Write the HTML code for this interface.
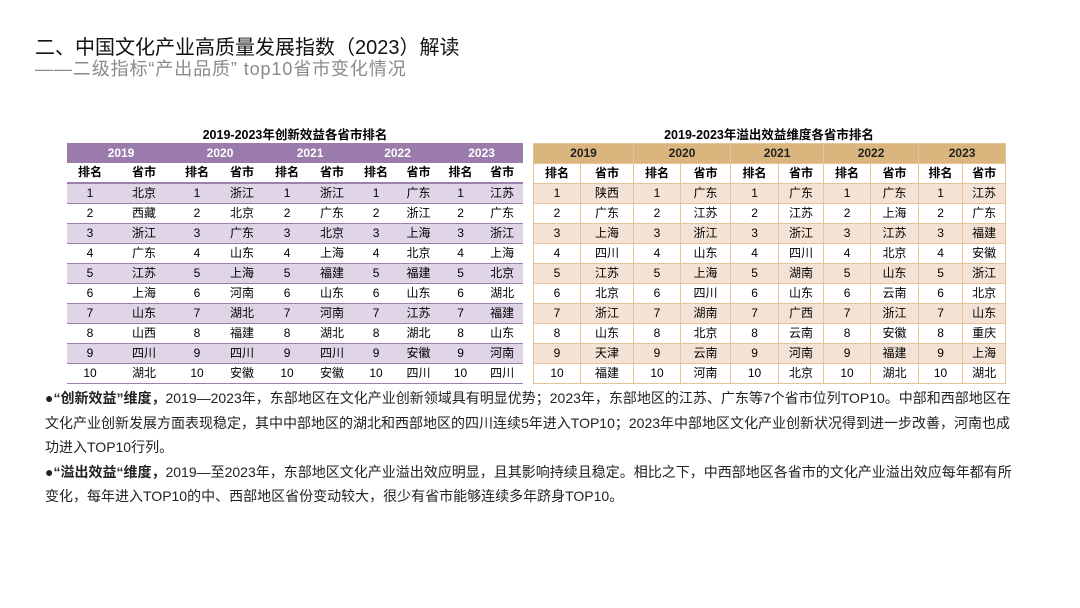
<!DOCTYPE html><html><head><meta charset="utf-8"><style>
body{margin:0;width:1080px;height:608px;background:#fff;position:relative;font-family:"Liberation Sans","Noto Sans CJK SC",sans-serif;overflow:hidden}
.a{position:absolute}
table{border-collapse:collapse;table-layout:fixed;font-size:12px;text-align:center}
td{padding:0;height:19px;line-height:17px;white-space:nowrap;overflow:hidden;box-sizing:border-box}
tr{height:20px}
.L td{border-bottom:1px solid #9b80b0;height:20px}
.L tr.h td{background:#9a7bab;color:#fff;font-weight:bold;border:none}
.L tr.s td{font-weight:bold;border-bottom:2px solid #9b80b0;height:19px}
.L tr.o td{background:#dfd5e7}
.R td{border:1px solid #e8c39a;height:20px}
.R tr.h td{background:#dbb57e;color:#222;font-weight:bold}
.R tr.s td{font-weight:bold;height:19px}
.R tr.o td{background:#f4e3d5}
.cap{font-size:12.5px;font-weight:bold;text-align:center}
p{margin:0}
</style></head><body>
<div class="a" style="left:35px;top:31px;font-size:20px;color:#111">二、中国文化产业高质量发展指数（2023）解读</div>
<div class="a" style="left:35px;top:55px;font-size:18px;color:#8a8a8a;letter-spacing:0.9px">——二级指标“产出品质” top10省市变化情况</div>
<div class="a cap" style="left:67px;top:124px;width:456px">2019-2023年创新效益各省市排名</div>
<div class="a cap" style="left:533px;top:124px;width:472px">2019-2023年溢出效益维度各省市排名</div>
<table class="a L" style="left:67px;top:143px;width:456px">
<colgroup><col style="width:46px"><col style="width:62px"><col style="width:44px"><col style="width:46px"><col style="width:44px"><col style="width:46px"><col style="width:42px"><col style="width:43px"><col style="width:41px"><col style="width:42px"></colgroup>
<tr class="h"><td colspan="2">2019</td><td colspan="2">2020</td><td colspan="2">2021</td><td colspan="2">2022</td><td colspan="2">2023</td></tr>
<tr class="s"><td>排名</td><td>省市</td><td>排名</td><td>省市</td><td>排名</td><td>省市</td><td>排名</td><td>省市</td><td>排名</td><td>省市</td></tr>
<tr class="o"><td>1</td><td>北京</td><td>1</td><td>浙江</td><td>1</td><td>浙江</td><td>1</td><td>广东</td><td>1</td><td>江苏</td></tr>
<tr><td>2</td><td>西藏</td><td>2</td><td>北京</td><td>2</td><td>广东</td><td>2</td><td>浙江</td><td>2</td><td>广东</td></tr>
<tr class="o"><td>3</td><td>浙江</td><td>3</td><td>广东</td><td>3</td><td>北京</td><td>3</td><td>上海</td><td>3</td><td>浙江</td></tr>
<tr><td>4</td><td>广东</td><td>4</td><td>山东</td><td>4</td><td>上海</td><td>4</td><td>北京</td><td>4</td><td>上海</td></tr>
<tr class="o"><td>5</td><td>江苏</td><td>5</td><td>上海</td><td>5</td><td>福建</td><td>5</td><td>福建</td><td>5</td><td>北京</td></tr>
<tr><td>6</td><td>上海</td><td>6</td><td>河南</td><td>6</td><td>山东</td><td>6</td><td>山东</td><td>6</td><td>湖北</td></tr>
<tr class="o"><td>7</td><td>山东</td><td>7</td><td>湖北</td><td>7</td><td>河南</td><td>7</td><td>江苏</td><td>7</td><td>福建</td></tr>
<tr><td>8</td><td>山西</td><td>8</td><td>福建</td><td>8</td><td>湖北</td><td>8</td><td>湖北</td><td>8</td><td>山东</td></tr>
<tr class="o"><td>9</td><td>四川</td><td>9</td><td>四川</td><td>9</td><td>四川</td><td>9</td><td>安徽</td><td>9</td><td>河南</td></tr>
<tr><td>10</td><td>湖北</td><td>10</td><td>安徽</td><td>10</td><td>安徽</td><td>10</td><td>四川</td><td>10</td><td>四川</td></tr>
</table>
<table class="a R" style="left:533px;top:143px;width:472px">
<colgroup><col style="width:47px"><col style="width:53px"><col style="width:47px"><col style="width:50px"><col style="width:48px"><col style="width:45px"><col style="width:47px"><col style="width:48px"><col style="width:44px"><col style="width:43px"></colgroup>
<tr class="h"><td colspan="2">2019</td><td colspan="2">2020</td><td colspan="2">2021</td><td colspan="2">2022</td><td colspan="2">2023</td></tr>
<tr class="s"><td>排名</td><td>省市</td><td>排名</td><td>省市</td><td>排名</td><td>省市</td><td>排名</td><td>省市</td><td>排名</td><td>省市</td></tr>
<tr class="o"><td>1</td><td>陕西</td><td>1</td><td>广东</td><td>1</td><td>广东</td><td>1</td><td>广东</td><td>1</td><td>江苏</td></tr>
<tr><td>2</td><td>广东</td><td>2</td><td>江苏</td><td>2</td><td>江苏</td><td>2</td><td>上海</td><td>2</td><td>广东</td></tr>
<tr class="o"><td>3</td><td>上海</td><td>3</td><td>浙江</td><td>3</td><td>浙江</td><td>3</td><td>江苏</td><td>3</td><td>福建</td></tr>
<tr><td>4</td><td>四川</td><td>4</td><td>山东</td><td>4</td><td>四川</td><td>4</td><td>北京</td><td>4</td><td>安徽</td></tr>
<tr class="o"><td>5</td><td>江苏</td><td>5</td><td>上海</td><td>5</td><td>湖南</td><td>5</td><td>山东</td><td>5</td><td>浙江</td></tr>
<tr><td>6</td><td>北京</td><td>6</td><td>四川</td><td>6</td><td>山东</td><td>6</td><td>云南</td><td>6</td><td>北京</td></tr>
<tr class="o"><td>7</td><td>浙江</td><td>7</td><td>湖南</td><td>7</td><td>广西</td><td>7</td><td>浙江</td><td>7</td><td>山东</td></tr>
<tr><td>8</td><td>山东</td><td>8</td><td>北京</td><td>8</td><td>云南</td><td>8</td><td>安徽</td><td>8</td><td>重庆</td></tr>
<tr class="o"><td>9</td><td>天津</td><td>9</td><td>云南</td><td>9</td><td>河南</td><td>9</td><td>福建</td><td>9</td><td>上海</td></tr>
<tr><td>10</td><td>福建</td><td>10</td><td>河南</td><td>10</td><td>北京</td><td>10</td><td>湖北</td><td>10</td><td>湖北</td></tr>
</table>
<div class="a" style="left:45px;top:386px;width:968px;font-size:14px;line-height:24.5px;color:#222">
<p>●<b>“创新效益”维度，</b>2019—2023年，东部地区在文化产业创新领域具有明显优势；2023年，东部地区的江苏、广东等7个省市位列TOP10。中部和西部地区在文化产业创新发展方面表现稳定，其中中部地区的湖北和西部地区的四川连续5年进入TOP10；2023年中部地区文化产业创新状况得到进一步改善，河南也成功进入TOP10行列。</p>
<p>●<b>“溢出效益“维度，</b>2019—至2023年，东部地区文化产业溢出效应明显，且其影响持续且稳定。相比之下，中西部地区各省市的文化产业溢出效应每年都有所变化，每年进入TOP10的中、西部地区省份变动较大，很少有省市能够连续多年跻身TOP10。</p>
</div>
</body></html>
